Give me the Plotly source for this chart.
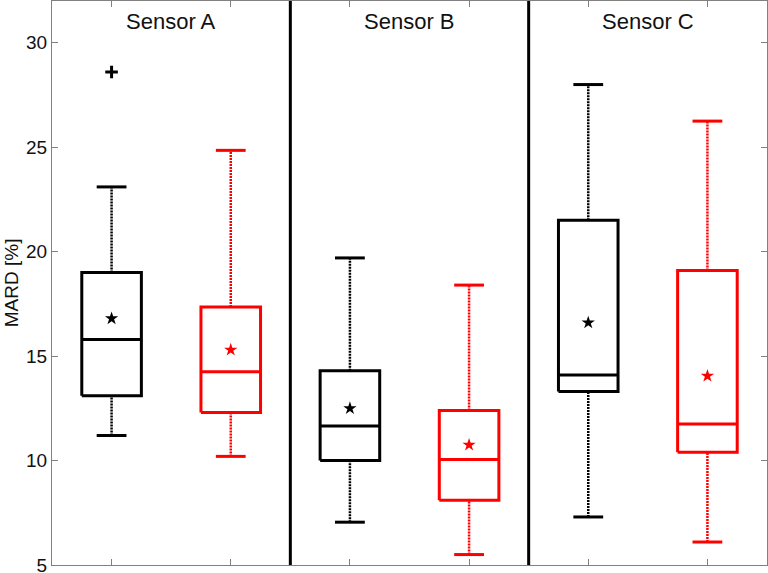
import plotly.graph_objects as go

# ---- data ----
sensors = ["Sensor A", "Sensor B", "Sensor C"]
positions = [1, 2, 3, 4, 5, 6]
series_colors = ["#000000", "#ff0000", "#000000", "#ff0000", "#000000", "#ff0000"]
lower_whisker = [11.2, 10.2, 7.05, 5.5, 7.3, 6.1]
q1 = [13.1, 12.3, 10.0, 8.1, 13.3, 10.4]
median = [15.8, 14.25, 11.65, 10.05, 14.1, 11.75]
q3 = [19.0, 17.35, 14.3, 12.4, 21.5, 19.1]
upper_whisker = [23.1, 24.85, 19.7, 18.4, 28.0, 26.25]
means = [16.8, 15.3, 12.5, 10.75, 16.6, 14.05]
outlier_pos = [1]
outlier_val = [28.6]
y_ticks = [5, 10, 15, 20, 25, 30]
dividers = [2.5, 4.5]

BOX_HALF = 0.25
CAP_HALF = 0.125
FONT = "Liberation Sans, Arial, sans-serif"

fig = go.Figure()

for i, p in enumerate(positions):
    c = series_colors[i]
    # dotted whiskers
    fig.add_trace(go.Scatter(
        x=[p, p, None, p, p],
        y=[lower_whisker[i], q1[i], None, q3[i], upper_whisker[i]],
        mode="lines", line=dict(color=c, width=2.5, dash="2px,1px"),
        hoverinfo="skip", showlegend=False))
    # whisker caps
    fig.add_trace(go.Scatter(
        x=[p - CAP_HALF, p + CAP_HALF, None, p - CAP_HALF, p + CAP_HALF],
        y=[lower_whisker[i], lower_whisker[i], None, upper_whisker[i], upper_whisker[i]],
        mode="lines", line=dict(color=c, width=3),
        hoverinfo="skip", showlegend=False))
    # box + median
    fig.add_trace(go.Scatter(
        x=[p - BOX_HALF, p + BOX_HALF, p + BOX_HALF, p - BOX_HALF, p - BOX_HALF, None,
           p - BOX_HALF, p + BOX_HALF],
        y=[q1[i], q1[i], q3[i], q3[i], q1[i], None, median[i], median[i]],
        mode="lines", line=dict(color=c, width=3),
        hoverinfo="skip", showlegend=False))
    # mean star
    fig.add_trace(go.Scatter(
        x=[p], y=[means[i]], mode="markers",
        marker=dict(symbol="star", size=10, color=c, line=dict(width=0)),
        hoverinfo="skip", showlegend=False))

# outliers
fig.add_trace(go.Scatter(
    x=outlier_pos, y=outlier_val, mode="markers",
    marker=dict(symbol="cross-thin", size=9, line=dict(color="#000000", width=3)),
    hoverinfo="skip", showlegend=False))

# group dividers
for d in dividers:
    fig.add_shape(type="line", xref="x", yref="paper", x0=d, x1=d, y0=0, y1=1,
                  line=dict(color="#000000", width=3))

# sensor titles
for k, s in enumerate(sensors):
    fig.add_annotation(x=1.5 + 2 * k, y=31.0, xref="x", yref="y", text=s,
                       showarrow=False, font=dict(family=FONT, size=22, color="#111111"),
                       xanchor="center", yanchor="middle")

# y axis title
fig.add_annotation(x=-0.057, y=0.5, xref="paper", yref="paper", text="MARD [%]",
                   textangle=-90, showarrow=False,
                   font=dict(family=FONT, size=19, color="#111111"),
                   xanchor="center", yanchor="middle")

fig.update_layout(
    width=768, height=573, autosize=False,
    margin=dict(l=52, r=1, t=1, b=8),
    paper_bgcolor="white", plot_bgcolor="white",
    font=dict(family=FONT, color="#111111"),
    xaxis=dict(range=[0.5, 6.5], tickvals=positions, ticktext=[""] * 6,
               ticks="inside", ticklen=6, tickcolor="#808080", tickwidth=1,
               showline=True, linecolor="#808080", linewidth=1, mirror="ticks",
               showgrid=False, zeroline=False),
    yaxis=dict(range=[5, 32], tickvals=y_ticks,
               ticks="inside", ticklen=6, tickcolor="#808080", tickwidth=1,
               showline=True, linecolor="#808080", linewidth=1, mirror="ticks",
               showgrid=False, zeroline=False, automargin=False,
               ticklabeloverflow="allow",
               tickfont=dict(family=FONT, size=19, color="#111111")),
)

fig.write_html("out.html", config={"displayModeBar": False},
               post_script="document.body.style.margin='0';")
